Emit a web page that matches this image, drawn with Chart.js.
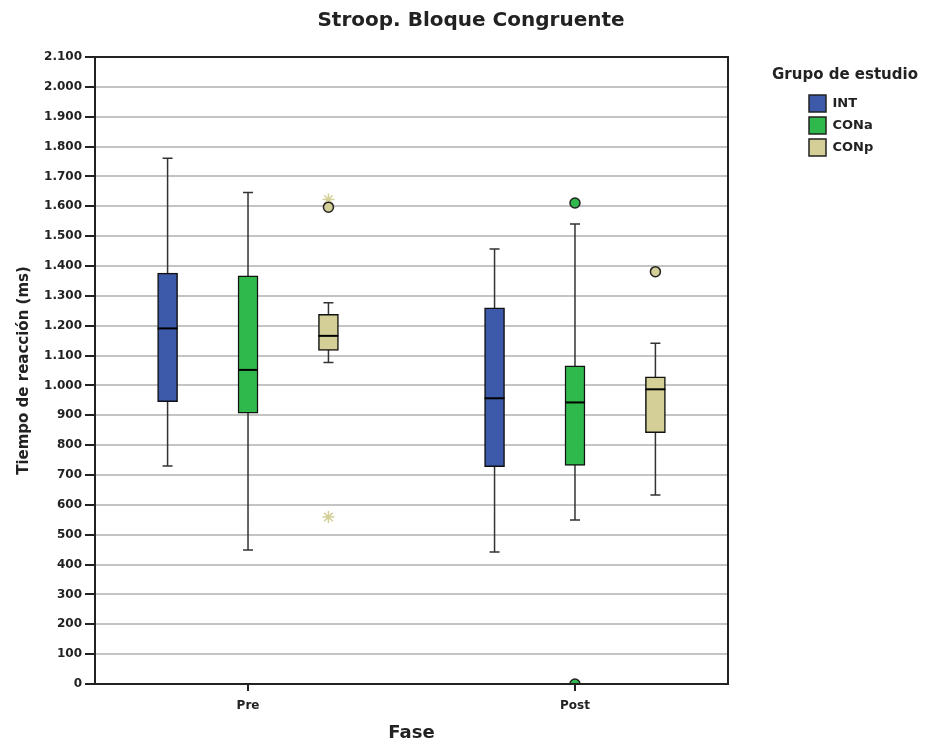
<!DOCTYPE html>
<html>
<head>
<meta charset="utf-8">
<script src="https://cdn.jsdelivr.net/npm/chart.js@4.4.1/dist/chart.umd.min.js"></script>
<style>
  html, body { margin: 0; padding: 0; background: #fff; }
  #wrap { width: 936px; height: 744px; }
</style>
</head>
<body>
<div id="wrap"><canvas id="chart"></canvas></div>
<script>
// phases on the x axis, groups within each phase
const phases = ['Pre', 'Post']
const groups = ['INT', 'CONa', 'CONp']
const groupColors = ['#3d59a9', '#2fb84b', '#d4cf97']
const groupOffset = [-0.246, 0, 0.246]

// box plot summaries per group: [Pre, Post]
const whiskerLow = [[730, 442], [449, 549], [1077, 633]]
const q1 = [[946, 728], [907, 732], [1117, 842]]
const median = [[1191, 957], [1052, 943], [1166, 987]]
const q3 = [[1376, 1260], [1367, 1066], [1238, 1029]]
const whiskerHigh = [[1761, 1457], [1646, 1541], [1277, 1141]]

// outliers (circles) and extremes (stars): [group, phase, value]
const outliers = [[1, 1, 1611], [1, 1, 0], [2, 0, 1597], [2, 1, 1381]]
const extremes = [[2, 0, 1623], [2, 0, 559]]

const yTicks = [0, 100, 200, 300, 400, 500, 600, 700, 800, 900, 1000, 1100, 1200, 1300, 1400, 1500, 1600, 1700, 1800, 1900, 2000, 2100]

const fmt = (v) => String(v).replace(/\B(?=(\d{3})+(?!\d))/g, '.')
const FONT = 'DejaVu Sans, Liberation Sans, sans-serif'
const LEGEND_TITLE = 'Grupo de estudio'
const legendTitleFont = { family: FONT, size: 15, weight: 'bold' }
const legendTitlePad = { top: 68, bottom: 4 }

const boxDatasets = groups.map((g, gi) => ({
  type: 'bar',
  label: g,
  data: phases.map((p, pi) => ({ x: pi + groupOffset[gi], y: [q1[gi][pi], q3[gi][pi]] })),
  backgroundColor: groupColors[gi],
  borderColor: '#111',
  borderWidth: 1.5,
  borderSkipped: false,
  barThickness: 20,
  grouped: false,
  order: 2,
}))

const outlierDataset = {
  type: 'scatter',
  label: 'outliers',
  data: outliers.map(([gi, pi, v]) => ({ x: pi + groupOffset[gi], y: v })),
  pointBackgroundColor: outliers.map(([gi]) => groupColors[gi]),
  pointBorderColor: '#222',
  pointBorderWidth: 1.5,
  pointRadius: 5,
  order: 1,
}

const extremeDataset = {
  type: 'scatter',
  label: 'extremes',
  data: extremes.map(([gi, pi, v]) => ({ x: pi + groupOffset[gi], y: v })),
  pointStyle: 'star',
  pointBorderColor: extremes.map(([gi]) => groupColors[gi]),
  pointBorderWidth: 1.5,
  pointRadius: 6,
  order: 1,
}

// whiskers behind the boxes, medians on top, frame around the plot
const boxPlotParts = {
  id: 'boxPlotParts',
  beforeUpdate(chart) {
    // legend needs more room than its items (title + right margin)
    const lg = chart.legend
    if (lg && !lg._wide) {
      const fit = lg.fit
      lg.fit = function () { fit.call(this); this.width = 132 }
      lg._wide = true
    }
  },
  beforeDatasetsDraw(chart) {
    const { ctx, scales: { x, y } } = chart
    ctx.save()
    ctx.strokeStyle = '#333'
    ctx.lineWidth = 1.5
    groups.forEach((g, gi) => {
      phases.forEach((p, pi) => {
        const px = x.getPixelForValue(pi + groupOffset[gi])
        const lo = y.getPixelForValue(whiskerLow[gi][pi])
        const hi = y.getPixelForValue(whiskerHigh[gi][pi])
        ctx.beginPath()
        ctx.moveTo(px, lo); ctx.lineTo(px, hi)
        ctx.moveTo(px - 5, lo); ctx.lineTo(px + 5, lo)
        ctx.moveTo(px - 5, hi); ctx.lineTo(px + 5, hi)
        ctx.stroke()
      })
    })
    ctx.restore()
  },
  afterDatasetsDraw(chart) {
    const { ctx, chartArea: a, scales: { x, y } } = chart
    ctx.save()
    ctx.strokeStyle = '#000'
    ctx.lineWidth = 2
    groups.forEach((g, gi) => {
      phases.forEach((p, pi) => {
        const px = x.getPixelForValue(pi + groupOffset[gi])
        const m = y.getPixelForValue(median[gi][pi])
        ctx.beginPath()
        ctx.moveTo(px - 10, m); ctx.lineTo(px + 10, m)
        ctx.stroke()
      })
    })
    ctx.strokeStyle = '#222'
    ctx.lineWidth = 2
    ctx.strokeRect(a.left, a.top, a.right - a.left, a.bottom - a.top)
    ctx.restore()
  },
  afterDraw(chart) {
    // legend title, drawn here so it is not clipped to the narrow legend column
    const { ctx, legend } = chart
    ctx.save()
    ctx.fillStyle = '#222'
    ctx.font = `bold ${legendTitleFont.size}px ${FONT}`
    ctx.textAlign = 'center'
    ctx.textBaseline = 'middle'
    ctx.fillText(LEGEND_TITLE, legend.left + 41, legend.top + legendTitlePad.top + legendTitleFont.size / 2)
    ctx.restore()
  },
}

new Chart(document.getElementById('chart'), {
  data: { datasets: [...boxDatasets, outlierDataset, extremeDataset] },
  options: {
    responsive: true,
    maintainAspectRatio: false,
    animation: false,
    layout: { padding: { left: 6, right: 0, top: 0, bottom: 0 } },
    plugins: {
      title: {
        display: true,
        text: 'Stroop. Bloque Congruente',
        color: '#222',
        font: { family: FONT, size: 20, weight: 'bold' },
        padding: { top: 9, bottom: 24 },
      },
      legend: {
        position: 'right',
        align: 'start',
        title: {
          display: true,
          text: LEGEND_TITLE,
          color: 'rgba(0,0,0,0)',
          font: legendTitleFont,
          padding: legendTitlePad,
        },
        labels: {
          boxWidth: 17,
          boxHeight: 17,
          padding: 5,
          color: '#222',
          font: { family: FONT, size: 13, weight: 'bold' },
          generateLabels: (chart) => groups.map((g, gi) => ({
            text: g,
            fillStyle: groupColors[gi],
            strokeStyle: '#222',
            fontColor: '#222',
            lineWidth: 1.5,
            datasetIndex: gi,
          })),
        },
      },
      tooltip: { enabled: false },
    },
    scales: {
      x: {
        type: 'linear',
        min: -0.468,
        max: 1.468,
        offset: false,
        afterBuildTicks: (scale) => { scale.ticks = phases.map((p, i) => ({ value: i })) },
        afterFit: (scale) => { scale.height = 60 },
        ticks: {
          callback: (v) => phases[v],
          color: '#222',
          padding: 8,
          font: { family: FONT, size: 12, weight: 'bold' },
        },
        grid: { offset: false, drawOnChartArea: false, drawTicks: true, tickLength: 7, color: '#222', lineWidth: 2 },
        border: { display: false },
        title: {
          display: true,
          text: 'Fase',
          color: '#222',
          font: { family: FONT, size: 18, weight: 'bold' },
          padding: { top: 0, bottom: 0 },
        },
      },
      y: {
        type: 'linear',
        min: 0,
        max: 2100,
        afterBuildTicks: (scale) => { scale.ticks = yTicks.map((v) => ({ value: v })) },
        afterFit: (scale) => { scale.width = 89 },
        ticks: {
          callback: (v) => fmt(v),
          color: '#222',
          padding: 3,
          font: { family: FONT, size: 12, weight: 'bold' },
        },
        grid: {
          color: (c) => c.tick && c.tick.value === 0 ? 'rgba(0,0,0,0)' : '#c4c4c4',
          lineWidth: 2,
          tickColor: '#222',
          tickLength: 10,
          tickWidth: 2,
        },
        border: { display: false },
        title: {
          display: true,
          text: 'Tiempo de reacción (ms)',
          color: '#222',
          font: { family: FONT, size: 15, weight: 'bold' },
          padding: { top: 9, bottom: 2 },
        },
      },
      // empty axis that keeps the gap between the plot and the legend
      gap: {
        type: 'linear',
        position: 'right',
        display: true,
        afterFit: (scale) => { scale.width = 76 },
        ticks: { display: false },
        grid: { display: false },
        border: { display: false },
      },
    },
  },
  plugins: [boxPlotParts],
})
</script>
</body>
</html>
